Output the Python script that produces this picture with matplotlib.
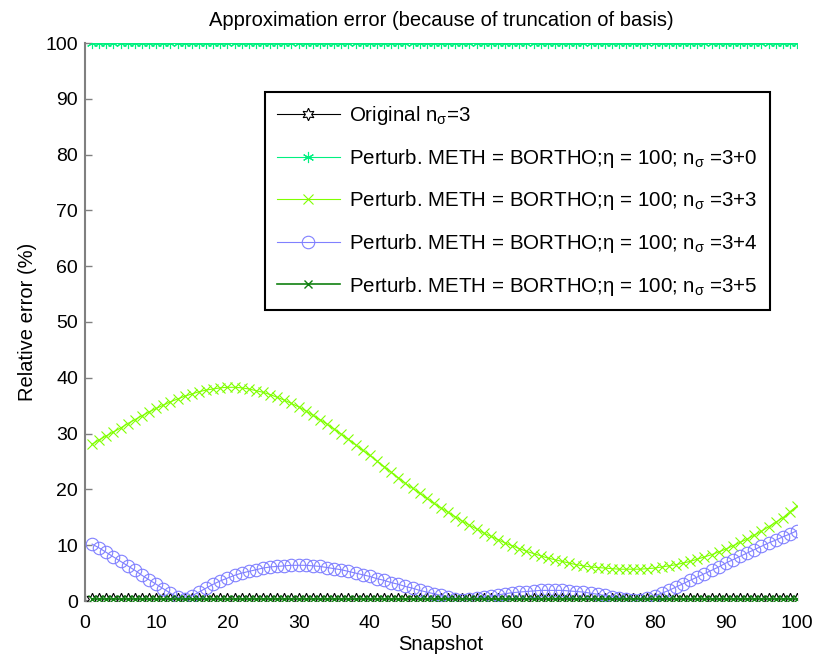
import matplotlib
matplotlib.use("Agg")
import matplotlib.pyplot as plt
from matplotlib.lines import Line2D

plt.rcParams['font.family'] = ['Liberation Sans', 'DejaVu Sans']
plt.rcParams['mathtext.fontset'] = 'custom'
plt.rcParams['mathtext.rm'] = 'Liberation Sans'
plt.rcParams['mathtext.it'] = 'Liberation Sans'
plt.rcParams['mathtext.sf'] = 'Liberation Sans'

snapshots = list(range(1, 101))

err_original = [
    0.4, 0.4, 0.4, 0.4, 0.4, 0.4, 0.4, 0.4, 0.4, 0.4,
    0.4, 0.4, 0.4, 0.4, 0.4, 0.4, 0.4, 0.4, 0.4, 0.4,
    0.4, 0.4, 0.4, 0.4, 0.4, 0.4, 0.4, 0.4, 0.4, 0.4,
    0.4, 0.4, 0.4, 0.4, 0.4, 0.4, 0.4, 0.4, 0.4, 0.4,
    0.4, 0.4, 0.4, 0.4, 0.4, 0.4, 0.4, 0.4, 0.4, 0.4,
    0.4, 0.4, 0.4, 0.4, 0.4, 0.4, 0.4, 0.4, 0.4, 0.4,
    0.4, 0.4, 0.4, 0.4, 0.4, 0.4, 0.4, 0.4, 0.4, 0.4,
    0.4, 0.4, 0.4, 0.4, 0.4, 0.4, 0.4, 0.4, 0.4, 0.4,
    0.4, 0.4, 0.4, 0.4, 0.4, 0.4, 0.4, 0.4, 0.4, 0.4,
    0.4, 0.4, 0.4, 0.4, 0.4, 0.4, 0.4, 0.4, 0.4, 0.4,
]

err_3p0 = [
    100, 100, 100, 100, 100, 100, 100, 100, 100, 100,
    100, 100, 100, 100, 100, 100, 100, 100, 100, 100,
    100, 100, 100, 100, 100, 100, 100, 100, 100, 100,
    100, 100, 100, 100, 100, 100, 100, 100, 100, 100,
    100, 100, 100, 100, 100, 100, 100, 100, 100, 100,
    100, 100, 100, 100, 100, 100, 100, 100, 100, 100,
    100, 100, 100, 100, 100, 100, 100, 100, 100, 100,
    100, 100, 100, 100, 100, 100, 100, 100, 100, 100,
    100, 100, 100, 100, 100, 100, 100, 100, 100, 100,
    100, 100, 100, 100, 100, 100, 100, 100, 100, 100,
]

err_3p3 = [
    28.1, 28.9, 29.6, 30.3, 31.0, 31.8, 32.5, 33.2, 33.9, 34.5,
    35.1, 35.7, 36.2, 36.7, 37.1, 37.5, 37.8, 38.0, 38.2, 38.3,
    38.3, 38.2, 38.0, 37.7, 37.4, 37.0, 36.5, 36.0, 35.4, 34.8,
    34.1, 33.3, 32.5, 31.7, 30.8, 29.9, 29.0, 28.0, 27.0, 26.1,
    25.1, 24.1, 23.1, 22.1, 21.1, 20.2, 19.3, 18.4, 17.5, 16.7,
    15.9, 15.1, 14.3, 13.6, 12.9, 12.2, 11.6, 11.0, 10.4, 9.9,
    9.4, 8.9, 8.5, 8.1, 7.7, 7.4, 7.1, 6.8, 6.5, 6.3,
    6.1, 6.0, 5.9, 5.8, 5.7, 5.7, 5.7, 5.7, 5.8, 5.9,
    6.1, 6.3, 6.5, 6.8, 7.1, 7.5, 7.9, 8.3, 8.8, 9.3,
    9.9, 10.5, 11.1, 11.8, 12.5, 13.3, 14.1, 14.9, 16.0, 17.0,
]

err_3p4 = [
    10.2, 9.5, 8.7, 7.9, 7.1, 6.3, 5.5, 4.6, 3.8, 3.0,
    2.2, 1.4, 0.7, 0.3, 0.9, 1.6, 2.3, 3.0, 3.6, 4.1,
    4.6, 5.0, 5.3, 5.6, 5.9, 6.1, 6.2, 6.3, 6.4, 6.4,
    6.4, 6.3, 6.2, 6.0, 5.8, 5.6, 5.3, 5.0, 4.7, 4.4,
    4.0, 3.7, 3.3, 3.0, 2.6, 2.3, 1.9, 1.6, 1.3, 1.0,
    0.7, 0.4, 0.2, 0.3, 0.5, 0.7, 0.9, 1.1, 1.3, 1.5,
    1.6, 1.7, 1.8, 1.9, 1.9, 1.9, 1.9, 1.8, 1.7, 1.6,
    1.4, 1.2, 1.0, 0.8, 0.6, 0.4, 0.2, 0.2, 0.5, 0.9,
    1.4, 1.9, 2.5, 3.1, 3.7, 4.3, 4.9, 5.5, 6.1, 6.8,
    7.4, 8.0, 8.6, 9.2, 9.8, 10.4, 10.9, 11.5, 12.0, 12.6,
]

err_3p5 = [
    0.3, 0.3, 0.3, 0.3, 0.3, 0.3, 0.3, 0.3, 0.3, 0.3,
    0.3, 0.3, 0.3, 0.3, 0.3, 0.3, 0.3, 0.3, 0.3, 0.3,
    0.3, 0.3, 0.3, 0.3, 0.3, 0.3, 0.3, 0.3, 0.3, 0.3,
    0.3, 0.3, 0.3, 0.3, 0.3, 0.3, 0.3, 0.3, 0.3, 0.3,
    0.3, 0.3, 0.3, 0.3, 0.3, 0.3, 0.3, 0.3, 0.3, 0.3,
    0.3, 0.3, 0.3, 0.3, 0.3, 0.3, 0.3, 0.3, 0.3, 0.3,
    0.3, 0.3, 0.3, 0.3, 0.3, 0.3, 0.3, 0.3, 0.3, 0.3,
    0.3, 0.3, 0.3, 0.3, 0.3, 0.3, 0.3, 0.3, 0.3, 0.3,
    0.3, 0.3, 0.3, 0.3, 0.3, 0.3, 0.3, 0.3, 0.3, 0.3,
    0.3, 0.3, 0.3, 0.3, 0.3, 0.3, 0.3, 0.3, 0.3, 0.3,
]

labels = [
    r'Original n$_{\sigma}$=3',
    r'Perturb. METH = BORTHO;$\eta$ = 100; n$_{\sigma}$ =3+0',
    r'Perturb. METH = BORTHO;$\eta$ = 100; n$_{\sigma}$ =3+3',
    r'Perturb. METH = BORTHO;$\eta$ = 100; n$_{\sigma}$ =3+4',
    r'Perturb. METH = BORTHO;$\eta$ = 100; n$_{\sigma}$ =3+5',
]

x_ticks = [0, 10, 20, 30, 40, 50, 60, 70, 80, 90, 100]
y_ticks = [0, 10, 20, 30, 40, 50, 60, 70, 80, 90, 100]

fig = plt.figure(figsize=(8.15, 6.57), dpi=100)
ax = fig.add_axes([85 / 815, 1 - 601 / 657, 712 / 815, 558 / 657])

star6 = (6, 1, 0)
ast6 = (6, 2, 0)

ax.plot(snapshots, err_original, color='black', lw=0.8, marker=star6,
        markersize=9, markerfacecolor='white', markeredgecolor='black',
        markeredgewidth=0.8, zorder=3)
ax.plot(snapshots, err_3p0, color='#00f080', lw=0.8, marker=ast6,
        markersize=8, markeredgewidth=0.8, zorder=3)
ax.plot(snapshots, err_3p3, color='#80ff00', lw=0.8, marker='x',
        markersize=7, markeredgewidth=0.8, zorder=3)
ax.plot(snapshots, err_3p4, color='#8080ff', lw=0.8, marker='o',
        markersize=9, markerfacecolor='none', markeredgewidth=0.8,
        zorder=3)
ax.plot(snapshots, err_3p5, color='#108010', lw=1.2, marker='x',
        markersize=5.5, markeredgewidth=1.0, zorder=3)

ax.set_xlim(0, 100)
ax.set_ylim(0, 100)
ax.set_xticks(x_ticks)
ax.set_yticks(y_ticks)
ax.tick_params(direction='in', length=5, width=1.0, color='#808080',
               labelsize=14)
ax.tick_params(axis='x', pad=10)
ax.tick_params(axis='y', pad=5)
for s in ['top', 'right']:
    ax.spines[s].set_visible(False)
for s in ['left', 'bottom']:
    ax.spines[s].set_color('#808080')
    ax.spines[s].set_linewidth(1.5)

ax.set_title('Approximation error (because of truncation of basis)',
             fontsize=14.5, pad=12)
ax.set_xlabel('Snapshot', fontsize=14.5, labelpad=2)
ax.set_ylabel('Relative error (%)', fontsize=14.5, labelpad=6)

handles = [
    Line2D([], [], color='black', lw=0.8, marker=star6, markersize=9,
           markerfacecolor='white', markeredgecolor='black', markeredgewidth=0.8),
    Line2D([], [], color='#00f080', lw=0.8, marker=ast6, markersize=8,
           markeredgewidth=0.8),
    Line2D([], [], color='#80ff00', lw=0.8, marker='x', markersize=7,
           markeredgewidth=0.8),
    Line2D([], [], color='#8080ff', lw=0.8, marker='o', markersize=9,
           markerfacecolor='none', markeredgewidth=0.8),
    Line2D([], [], color='#108010', lw=1.2, marker='x', markersize=5.5,
           markeredgewidth=1.0),
]
leg = ax.legend(handles, labels, loc='upper left',
                bbox_to_anchor=(0.2525, 0.912), fontsize=14.8,
                handlelength=3.05, handletextpad=0.45, labelspacing=0.95,
                borderpad=0.6, borderaxespad=0, fancybox=False,
                framealpha=1, edgecolor='black', numpoints=1)
leg.get_frame().set_linewidth(1.5)

fig.savefig('out.png', dpi=100)
